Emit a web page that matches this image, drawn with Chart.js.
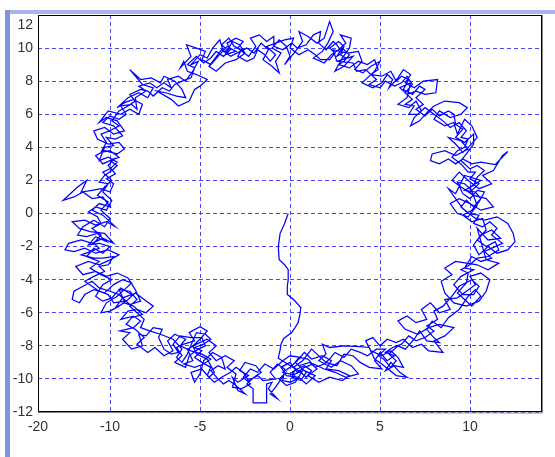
<!DOCTYPE html>
<html>
<head>
<meta charset="utf-8">
<script src="https://cdn.jsdelivr.net/npm/chart.js@4"></script>
<style>
  body { margin: 0; background: #fff; }
  #wrap { position: relative; width: 555px; height: 457px; }
  .band { position: absolute; }
  #topband { left: 5px; top: 10px; width: 550px; height: 4px; background: #a4b6ea; }
  #leftband { left: 5px; top: 10px; width: 5px; height: 447px; background: #7f93de; }
  canvas { position: absolute; left: 0; top: 0; }
</style>
</head>
<body>
<div id="wrap">
  <div class="band" id="topband"></div>
  <div class="band" id="leftband"></div>
  <canvas id="chart" width="555" height="457"></canvas>
</div>
<script>
const ctx = document.getElementById('chart');

// tick labels (the left edge tick is labelled -20 in the original)
const xTickValues = [-14, -10, -5, 0, 5, 10];
const xTickLabels = ['-20', '-10', '-5', '0', '5', '10'];
const yTickValues = [-12, -10, -8, -6, -4, -2, 0, 2, 4, 6, 8, 10, 12];

// walk path
const stem = [[-0.1,0],[-0.3,-0.6],[-0.55,-1.2],[-0.65,-2.0],[-0.6,-2.8],[-0.3,-3.1],[-0.1,-3.4],[-0.1,-4.0],[-0.15,-4.4],[-0.15,-4.9],[0.2,-5.2],[0.45,-5.5],[0.6,-5.7],[0.55,-6.1],[0.45,-6.6],[0.25,-6.95],[0.1,-7.2],[-0.35,-7.55],[-0.5,-7.9],[-0.55,-8.25],[-0.65,-8.75],[-0.2,-9.05]];
const bottom = [[0.3,-9.4],[0.1,-9.9],[0.6,-10.1],[0.9,-9.6],[0.5,-9.2],[1.1,-9.0],[1.5,-9.4],[1.0,-9.8],[1.6,-10.2],[2.2,-9.9],[2.9,-10.1],[3.3,-9.8],[2.7,-9.5],[2.0,-9.4],[2.3,-8.9],[1.8,-8.6],[1.2,-8.8],[0.8,-8.4],[0.4,-8.9],[0.0,-9.3],[-0.4,-9.6],[0.2,-9.75],[0.7,-9.5],[0.3,-10.2],[-0.2,-10.4],[-0.6,-10.0],[-0.3,-9.7],[-0.8,-10.5],[-1.1,-10.9],[-0.7,-11.2],[-1.2,-10.6],[-1.0,-10.2]];
const bottomLeft = [[-1.3,-10.3],[-1.3,-11.45],[-2.05,-11.45],[-2.05,-10.6],[-2.4,-10.3],[-2.0,-9.9],[-1.6,-9.6],[-1.9,-9.2],[-2.5,-9.0],[-2.8,-9.5],[-2.3,-9.8],[-2.9,-10.2],[-3.2,-9.9],[-2.9,-10.7],[-2.5,-10.9],[-3.0,-10.4],[-3.4,-10.1],[-3.7,-10.3],
  [-4.0,-10.0],[-4.4,-9.5],[-4.0,-9.2],[-3.6,-9.4],[-3.8,-8.7],[-4.3,-8.4],[-4.8,-8.9],[-5.0,-9.7],[-5.3,-10.2],[-5.5,-9.6],[-4.9,-9.4],[-4.5,-9.9],[-4.2,-9.6],[-4.6,-8.8],[-5.2,-8.5],[-5.4,-8.0],[-5.0,-7.6],[-4.6,-7.1],[-5.0,-6.85],[-5.6,-7.2],[-5.3,-7.7],[-5.9,-7.9],[-6.3,-8.1],[-6.0,-8.6],[-6.4,-9.0],[-5.8,-9.3],[-5.6,-8.6],[-5.1,-8.2],[-4.7,-8.0],[-4.9,-7.5],[-5.5,-7.5],[-6.1,-7.4],[-6.5,-7.9],[-6.2,-8.4],[-6.6,-8.5],
  [-7.0,-8.2],[-7.3,-7.5],[-7.1,-7.0],[-7.6,-6.9],[-8.0,-7.4],[-8.4,-7.3],[-8.2,-8.0],[-8.8,-8.2],[-9.3,-7.6],[-8.9,-7.2],[-9.45,-7.1],[-8.7,-6.9],[-8.3,-6.5],[-8.7,-6.2]];
const left = [[-9.4,-6.4],[-9.0,-5.9],[-8.5,-5.8],[-8.0,-6.0],[-7.6,-5.6],[-8.1,-5.2],[-8.6,-4.8],[-9.0,-5.2],[-9.5,-5.6],[-10.0,-5.9],[-10.5,-6.0],[-10.2,-5.4],[-9.6,-5.0],[-9.2,-4.6],[-8.8,-4.2],[-9.3,-4.0],[-9.8,-4.3],[-10.3,-4.8],[-10.9,-4.6],[-11.4,-4.9],[-11.7,-5.4],[-12.1,-5.2],[-12.0,-4.7],[-11.5,-4.4],[-11.0,-4.1],[-10.6,-4.5],[-10.0,-4.7],[-9.5,-4.9],[-8.9,-5.5],[-8.3,-5.3],[-8.6,-4.6],[-9.0,-3.9],
  [-9.6,-3.6],[-10.2,-3.8],[-10.8,-3.5],[-11.5,-3.7],[-11.9,-3.2],[-11.2,-2.9],[-10.6,-3.1],[-10.0,-2.8],[-9.5,-2.5],[-10.1,-2.2],[-10.8,-2.4],[-11.4,-2.1],[-12.0,-2.3],[-12.5,-2.2],[-12.3,-1.8],[-11.6,-1.6],[-11.0,-1.8],[-10.4,-1.5],[-9.8,-1.8],[-10.3,-1.2],[-11.1,-1.1],[-11.7,-0.9],[-12.1,-0.5],[-11.4,-0.4],[-10.8,-0.7],[-10.2,-0.5],[-9.7,-0.8],[-10.4,-0.1],[-11.0,0.2],[-10.6,0.6],[-10.0,0.4],[-10.4,1.0],[-11.0,0.9],
  [-11.5,1.3],[-12.0,1.0],[-12.6,0.8],[-12.1,1.3],[-11.8,1.6],[-11.3,2.0],[-11.6,1.3],[-11.0,1.4],[-10.5,1.5],[-10.0,1.3],[-9.8,1.8],
  [-10.2,2.1],[-9.7,2.4],[-10.1,2.9],[-9.8,3.3],[-10.4,3.0],[-10.8,3.5],[-10.3,3.8],[-9.6,3.6],[-9.2,3.9],[-9.5,4.3],[-10.1,4.2],[-10.7,4.5],[-10.9,5.0],[-10.3,5.2],[-9.8,4.8],[-9.2,5.0]];
const topLeft = [[-9.6,5.6],[-10.2,5.8],[-10.6,5.5],[-10.1,6.2],[-9.4,6.0],[-8.9,6.3],[-8.4,6.0],[-8.2,6.6],[-8.7,6.9],[-9.2,6.7],[-9.6,6.4],
  [-9.0,7.0],[-8.4,7.3],[-7.9,7.0],[-7.6,7.6],[-8.2,7.8],[-8.9,8.7],[-8.3,8.1],[-7.7,8.2],[-7.2,7.9],[-7.0,8.3],[-6.4,8.0],[-6.0,7.5],[-5.8,7.0],[-6.3,7.1],[-6.9,7.3],[-7.4,7.4],[-6.6,6.9],[-6.2,6.5],[-5.6,6.8],[-5.3,7.5],
  [-5.0,7.7],[-4.6,8.1],[-5.2,8.4],[-5.7,8.6],[-5.9,9.2],[-6.1,8.8],[-5.5,9.5],[-5.75,10.2],[-5.2,10.0],[-4.7,9.8],[-4.9,9.3],[-4.4,9.0],[-4.0,9.5],[-3.5,10.1],[-3.0,9.8],[-3.6,9.6],[-3.2,10.4],[-2.8,10.2],[-2.5,9.7],[-3.0,9.3],[-3.6,9.1],[-4.1,8.6],[-4.5,8.9],[-3.8,9.9],[-3.3,9.5],[-2.4,10.0],[-2.0,9.7],
  [-1.6,10.3],[-1.2,9.9],[-1.5,9.3],[-1.0,8.9],[-0.6,8.5],[-0.8,9.2],[-0.5,9.7],[-1.0,10.0],[-0.6,10.5],[-0.2,10.1],[0.0,9.5],[-0.3,9.0]];
const topRight = [[0.3,9.8],[0.7,10.4],[0.5,11.0],[1.0,10.7],[1.5,10.3],[1.9,10.6],[2.2,11.6],[2.4,11.0],[2.1,10.3],[1.8,9.8],[1.3,9.4],[1.9,9.1],[2.3,9.6],[2.7,9.9],[3.1,10.3],[2.8,10.8],[3.4,10.6],[3.3,10.0],[2.9,9.4],[2.5,8.6],[3.0,8.9],[3.5,9.5],[2.6,9.2],[2.4,9.9],[3.2,9.7],[3.8,9.8],[4.0,9.2],[3.6,8.7],[4.05,8.5],
  [4.5,8.9],[5.0,9.2],[4.7,8.6],[4.3,8.2],[4.0,7.9],[4.6,7.6],[5.1,7.9],[5.4,8.4],[5.7,8.1],[5.5,7.6],
  [6.0,8.2],[6.3,8.7],[6.7,8.4],[6.4,7.9],[6.9,7.6],[7.4,8.0],[8.2,8.1],[8.1,7.3],[7.5,7.2],[7.0,7.4],[6.5,7.2],[6.1,7.6],[6.7,7.9],
  [6.5,7.0],[6.0,6.6],[6.6,6.4],[7.0,6.8],[7.3,6.2],[6.9,5.8],[6.7,5.3],[7.2,5.6],[7.6,6.1],
  [8.0,6.5],[8.6,6.8],[9.4,6.7],[9.85,6.4],[9.5,6.0],[8.9,5.8],[8.3,6.2],[8.0,5.7],
  [8.6,5.3],[9.1,5.5],[9.3,4.8],[9.7,5.7],[10.1,5.3],[10.4,4.6],[10.0,4.1],[9.6,3.7],[9.2,4.2],[8.8,4.6],[9.5,4.4],[9.9,3.9],
  [9.2,3.5],[8.6,3.8],[7.9,3.6],[7.8,3.2],[8.3,3.0],[8.8,3.3],[9.2,3.0]];
const right = [[9.6,3.3],[10.1,3.0],[10.6,3.1],[11.4,2.95],[12.1,3.75],[11.8,3.5],[11.3,2.6],[10.7,2.3],[11.2,1.8],[10.5,1.5],[9.9,2.0],[9.4,2.5],[9.0,2.0],[9.5,1.6],[10.2,1.1],[10.9,0.9],[11.3,0.4],[10.6,0.2],[10.0,0.6],[9.4,0.9],[8.9,0.6],[9.3,0.0],[9.9,-0.2],[10.4,0.5],[10.0,1.6],[10.6,2.0],[9.7,2.3],[9.2,1.2],[8.8,1.5],[9.6,0.3],[10.3,-0.3],
  [10.8,-0.4],[11.5,-0.2],[12.1,-0.6],[12.4,-1.2],[12.5,-1.7],[12.1,-2.2],[11.5,-2.4],[11.0,-2.0],[10.5,-2.5],[10.2,-1.9],[10.6,-1.3],[11.2,-1.0],[11.7,-1.5],[11.0,-1.6],[10.4,-0.9]];
const bottomRight = [[10.9,-2.8],[11.6,-3.0],[11.0,-3.4],[10.4,-3.1],[9.8,-3.0],[9.2,-2.9],[8.6,-3.3],[9.0,-3.7],[8.4,-4.1],[8.6,-4.8],[9.1,-5.4],[9.8,-5.6],[10.5,-5.3],[10.9,-4.7],[11.1,-4.0],[10.6,-3.6],[10.0,-3.8],[10.3,-4.3],
  [9.3,-5.1],[8.6,-5.2],[8.9,-5.8],[8.3,-6.0],[7.8,-5.4],[7.3,-5.8],[7.6,-6.4],[7.0,-6.6],[6.5,-6.2],[6.0,-6.5],[6.4,-7.0],[7.1,-7.3],[7.7,-6.9],[8.3,-6.7],[9.1,-6.9],[8.6,-7.4],[8.0,-7.7],[8.5,-8.4],[7.7,-8.3],[7.3,-7.9],[6.8,-8.1],[6.3,-7.6],[5.9,-7.8],
  [5.4,-7.6],[5.0,-8.0],[4.6,-7.5],[4.2,-7.7],[4.5,-8.3],[5.1,-8.6],[5.6,-8.3],[6.0,-8.7],[6.3,-9.3],[5.8,-9.2],[5.3,-9.5],[5.6,-9.0],[6.1,-9.6],[6.5,-9.9],[5.9,-9.8],[5.1,-9.1],[4.7,-8.8],[4.4,-8.1],
  [3.9,-8.05],[3.0,-8.0],[2.2,-8.1],[1.8,-7.9],[2.0,-8.5],[1.6,-8.9],[2.3,-9.3],[2.8,-8.9],[3.4,-9.2],[3.8,-9.7],[3.1,-9.9],[2.5,-9.6],[1.9,-9.4],[1.3,-9.1],[0.8,-9.3],[0.4,-9.6]];
// second lap round the ring
const lapTwoLow = [[0.0,-9.0],[-0.5,-9.3],[-0.2,-9.8],[0.5,-9.9],[0.9,-10.3],[1.4,-9.8],[0.8,-9.5],[0.3,-9.0],[0.6,-8.7],[0.0,-8.6],[-0.4,-8.9],[-0.9,-9.4],[-1.4,-9.1],[-1.8,-9.6],[-2.2,-9.4],[-2.6,-9.9],[-2.2,-10.3],[-2.7,-10.6],[-3.2,-10.5],[-3.0,-9.7],[-3.5,-9.3],[-3.1,-8.9],[-3.6,-8.6],[-4.1,-8.9],[-4.5,-8.4],[-4.1,-8.0],[-4.6,-7.6],[-5.2,-7.9],[-5.7,-8.2],[-5.4,-8.9],[-5.9,-9.1],[-5.3,-9.3],[-4.8,-9.1],[-4.4,-8.8],[-4.9,-8.5],[-5.5,-8.3],[-6.1,-8.0],[-5.8,-7.6],[-6.4,-7.3],[-6.8,-7.7],[-6.5,-8.3],[-7.0,-8.6],[-7.5,-8.1],[-7.9,-8.4],[-8.5,-7.9],[-8.1,-7.5],[-8.6,-7.0],[-9.1,-6.7],[-8.8,-6.3],[-8.2,-6.1]];
const lapTwoLeft = [[-8.7,-5.6],[-9.2,-5.4],[-9.7,-5.7],[-9.3,-5.1],[-8.8,-4.9],[-9.4,-4.5],[-9.9,-5.1],[-10.4,-5.3],[-10.8,-5.0],[-10.4,-4.3],[-9.9,-4.0],[-10.5,-3.7],[-11.1,-3.3],[-10.6,-2.9],[-11.3,-2.6],[-10.9,-2.1],[-10.4,-2.4],[-10.0,-2.0],[-10.6,-1.8],[-11.2,-1.9],[-10.8,-1.4],[-10.2,-1.7],[-10.7,-1.2],[-11.3,-1.4],[-11.8,-1.3],[-11.5,-0.8],[-10.9,-0.4],[-10.3,-0.8],[-10.0,-0.3],[-10.5,0.2],[-10.1,0.7],[-10.7,1.1],[-10.3,1.6],[-9.9,2.0],[-10.4,2.5],[-10.0,2.7],[-9.6,3.1],[-10.1,3.4],[-10.6,3.2],[-10.3,4.0],[-9.8,4.1],[-10.2,4.6],[-9.7,4.5],[-9.3,4.7],[-9.8,5.3],[-10.4,5.5],[-10.0,5.9],[-9.5,5.7],[-9.1,6.0],[-9.4,6.5],[-8.8,6.6],[-8.5,6.3]];
const lapTwoHigh = [[-8.6,7.0],[-8.0,7.4],[-8.4,7.7],[-7.8,7.9],[-7.4,7.6],[-7.0,7.9],[-6.6,7.6],[-6.8,8.1],[-6.2,8.3],[-5.8,8.0],[-5.4,8.6],[-5.1,9.2],[-5.5,9.0],[-5.0,9.6],[-4.6,9.4],[-4.3,10.0],[-3.9,10.5],[-3.7,9.8],[-3.3,9.9],[-3.5,10.3],[-3.0,10.6],[-2.6,10.4],[-2.9,10.0],[-2.3,9.5],[-1.9,10.1],[-2.2,10.6],[-1.7,10.8],[-1.3,10.4],[-0.9,10.7],[-0.9,10.1],[-0.4,9.9],[0.1,10.3],[0.4,10.0],[0.9,10.2],[1.3,10.8],[1.7,11.0],[1.6,10.3],[2.0,9.9],[2.4,10.4],[2.6,10.2],[2.9,9.7],[2.6,9.5],[2.9,10.0],[3.3,9.6],[3.0,9.2],[2.7,9.0],[3.3,8.8],[3.8,9.2],[4.3,9.0],[4.7,9.3],[4.9,8.7],[4.5,8.4],[5.1,8.3],[5.6,8.6],[5.9,8.0],[6.2,8.3],[6.6,8.1],[6.3,7.5],[6.8,7.2],[7.2,7.7],[7.5,7.5],[7.0,7.0],[7.4,6.6],[7.0,6.3],[7.5,5.9],[7.9,6.3],[8.3,5.9],[8.8,6.2],[9.1,6.0],[9.2,5.4],[9.6,5.1],[9.2,4.6],[9.7,4.3],[10.2,4.8],[10.2,4.2],[9.8,3.6],[9.5,3.2]];
const lapTwoRight = [[10.0,2.7],[10.4,2.9],[10.8,2.6],[10.4,2.2],[10.2,1.7],[9.7,1.4],[10.3,1.3],[10.6,0.9],[10.2,0.4],[9.8,0.8],[9.5,0.4],[9.9,0.0],[10.5,-0.1],[10.2,-0.6],[10.7,-0.8],[11.1,-0.5],[11.5,-0.9],[11.2,-1.3],[11.8,-1.8],[11.4,-2.0],[10.8,-2.3],[11.2,-2.7],[10.6,-2.9],[10.1,-2.6],[9.7,-3.3],[10.2,-3.4],[9.5,-3.8],[9.1,-4.3],[9.6,-4.9],[10.2,-4.9],[10.5,-4.4],[10.1,-4.0],[9.4,-4.4],[9.0,-5.0],[8.5,-5.6],[8.0,-5.9],[8.2,-6.4],[7.6,-6.8],[8.0,-7.1],[7.5,-7.5],[7.0,-7.7],[6.6,-7.4],[6.2,-7.9],[5.7,-8.1],[5.3,-8.4],[5.8,-8.6],[5.4,-8.9],[5.0,-8.4],[4.7,-8.9],[5.1,-9.4],[4.4,-9.3],[3.9,-9.0],[3.5,-8.6],[3.0,-8.5],[2.6,-9.2],[2.0,-9.0],[1.5,-8.5],[1.2,-8.2],[0.7,-8.9],[0.2,-9.3]];
// third lap, tighter tangles in the dense patches
const lapThreeLow = [[0.6,-9.6],[0.9,-9.9],[1.2,-9.5],[0.8,-9.2],[0.4,-9.4],[0.1,-9.6],[0.4,-10.0],[0.0,-10.2],[-0.4,-10.1],[-0.3,-9.4],[-0.7,-9.1],[-1.1,-9.6],[-0.8,-10.0],[-1.5,-10.1],[-1.8,-9.8],[-2.3,-10.1],[-2.6,-9.6],[-3.0,-9.3],[-3.3,-9.6],[-3.8,-9.9],[-4.2,-10.2],[-4.6,-9.8],[-4.4,-9.3],[-4.9,-9.0],[-5.3,-8.7],[-4.9,-8.3],[-5.3,-8.1],[-4.8,-7.9],[-4.4,-7.6],[-4.7,-7.3],[-5.2,-7.2],[-5.4,-7.7],[-5.7,-8.5],[-6.0,-9.0],[-6.3,-8.7],[-6.0,-8.2],[-6.5,-7.6],[-7.2,-7.3],[-7.8,-7.1],[-8.3,-6.9],[-8.1,-6.4],[-8.5,-6.0],[-8.9,-5.6],[-8.5,-5.2],[-8.9,-4.7],[-9.5,-4.6],[-9.2,-5.3],[-9.8,-5.4],[-10.1,-4.9],[-10.6,-4.7],[-11.0,-4.4],[-11.4,-4.1],[-10.9,-3.8],[-10.3,-3.5],[-10.6,-3.2],[-10.1,-3.1],[-9.8,-2.6],[-10.4,-2.7],[-10.9,-2.7],[-11.6,-2.5],[-11.1,-2.3],[-10.6,-2.1],[-10.9,-1.8],[-10.5,-1.3],[-11.0,-0.9],[-10.5,-0.6],[-10.7,-0.2],[-11.2,0.1],[-10.8,0.4],[-10.2,0.2],[-9.9,0.8],[-10.4,1.3],[-10.1,1.8],[-10.6,1.9],[-10.3,2.3],[-9.9,2.6],[-9.6,2.9],[-10.0,3.2],[-9.5,3.4],[-10.0,3.8],[-10.5,3.7],[-10.2,4.3],[-10.5,4.8],[-10.0,5.0],[-9.5,5.3],[-9.9,5.6],[-9.5,6.2],[-9.0,6.5],[-8.6,6.8],[-8.9,7.2],[-8.3,7.5]];
const lapThreeHigh = [[-7.9,7.4],[-7.6,7.1],[-7.1,7.6],[-6.7,7.4],[-6.4,7.8],[-6.0,8.0],[-5.5,8.2],[-5.3,8.8],[-5.7,9.0],[-5.2,9.5],[-4.8,9.1],[-4.4,9.4],[-4.1,9.8],[-3.7,9.5],[-3.4,9.8],[-3.8,10.2],[-3.4,10.6],[-3.1,10.1],[-2.7,9.9],[-2.9,9.5],[-2.4,9.2],[-2.0,9.4],[-1.8,9.9],[-1.4,9.6],[-1.1,9.2],[-0.8,9.6],[-1.3,10.1],[-0.8,10.3],[-0.3,10.5],[0.2,10.6],[0.0,10.0],[0.5,9.6],[1.0,9.9],[1.4,9.6],[1.7,9.3],[2.2,9.3],[2.5,9.7],[2.2,10.0],[2.7,10.4],[3.0,10.1],[2.8,9.6],[3.1,9.4],[2.7,9.2],[3.5,9.1],[3.7,8.6],[4.2,8.7],[4.8,8.1],[4.4,7.8],[5.0,7.6],[5.3,8.0],[5.8,7.7],[6.2,7.9],[6.5,8.3],[6.8,7.8],[6.4,7.3],[6.8,6.9],[6.4,6.6],[6.9,6.5],[6.6,6.0],[7.1,6.0],[7.5,6.4],[8.0,6.0],[8.5,5.6],[8.9,5.2],[9.4,5.5],[9.8,5.0],[9.5,4.6],[9.9,4.5],[9.7,4.0],[9.3,3.8],[9.0,3.4],[9.5,3.0]];
const lapThreeRight = [[9.9,2.5],[10.3,2.5],[10.0,2.1],[10.5,1.8],[10.1,1.4],[9.7,1.8],[9.3,1.9],[9.6,1.2],[10.0,0.9],[10.4,1.4],[10.8,1.3],[10.5,0.7],[10.1,0.2],[9.6,-0.1],[10.1,-0.5],[10.7,-0.3],[10.9,-1.0],[10.4,-1.6],[10.9,-2.0],[11.4,-1.7],[11.6,-2.2],[11.0,-2.6],[10.4,-2.7],[10.0,-3.1],[9.5,-3.4],[9.9,-3.6],[9.8,-4.2],[9.3,-4.8],[9.7,-5.2],[10.1,-5.6],[10.6,-5.0],[10.3,-4.6],[9.9,-5.0],[9.4,-5.8],[8.8,-6.3],[8.4,-6.9],[7.9,-6.5],[7.6,-7.0],[7.9,-7.4],[8.3,-7.8],[7.6,-7.7],[7.2,-7.1],[6.9,-7.6],[6.4,-8.2],[6.0,-8.0],[5.5,-8.5],[5.9,-8.9],[5.6,-9.3],[5.2,-8.8],[4.9,-8.6],[5.3,-8.2],[4.8,-8.2],[4.3,-8.6],[3.9,-8.4],[3.4,-8.2],[3.0,-8.7],[2.5,-8.4],[2.2,-8.8],[1.9,-9.1],[1.4,-9.3],[1.0,-8.8],[0.5,-8.7],[0.2,-9.1]];

const walk = [].concat(stem, bottom, bottomLeft, left, topLeft, topRight, right, bottomRight,
  lapTwoLow, lapTwoLeft, lapTwoHigh, lapTwoRight, lapThreeLow, lapThreeHigh, lapThreeRight)
  .map(p => ({ x: p[0], y: p[1] }));

// box round the plot area, and the top y label that sits inside it
const frame = {
  id: 'frame',
  afterDraw(c) {
    const a = c.chartArea, g = c.ctx;
    g.save();
    g.strokeStyle = '#000';
    g.lineWidth = 1;
    g.strokeRect(a.left + 0.5, a.top + 0.5, a.right - a.left - 1, a.bottom - a.top - 1);
    g.strokeStyle = '#888';
    g.beginPath();
    g.moveTo(a.right + 0.5, a.top);
    g.lineTo(a.right + 0.5, a.bottom + 1);
    g.lineTo(a.left, a.bottom + 0.5);
    g.stroke();
    g.fillStyle = '#333';
    g.font = '14px "Liberation Sans"';
    g.textAlign = 'right';
    g.textBaseline = 'middle';
    g.fillText(String(yTickValues[yTickValues.length - 1]), a.left - 5, a.top + 10);
    g.restore();
  }
};

const gridStyle = { color: '#4646f5', lineWidth: 1, drawTicks: false };

new Chart(ctx, {
  type: 'scatter',
  data: {
    datasets: [{
      data: walk,
      showLine: true,
      borderColor: '#0000ff',
      borderWidth: 1.25,
      pointRadius: 0,
      tension: 0
    }]
  },
  options: {
    responsive: false,
    animation: false,
    layout: { padding: { left: 0, top: 15, right: 13, bottom: 0 } },
    plugins: { legend: { display: false }, tooltip: { enabled: false } },
    scales: {
      x: {
        min: -14, max: 14,
        afterBuildTicks: s => { s.ticks = xTickValues.map(v => ({ value: v })); },
        afterFit: s => { s.height = 45; },
        grid: gridStyle,
        border: { display: false, dash: [4, 3] },
        ticks: {
          padding: 7,
          color: '#333',
          font: { family: 'Liberation Sans', size: 14 },
          callback: (v, i) => xTickLabels[i]
        }
      },
      y: {
        min: -12, max: 12,
        afterBuildTicks: s => { s.ticks = yTickValues.map(v => ({ value: v })); },
        afterFit: s => { s.width = 38; },
        grid: gridStyle,
        border: { display: false, dash: [4, 3] },
        ticks: {
          padding: 5,
          color: '#333',
          font: { family: 'Liberation Sans', size: 14 },
          callback: v => (v === 12 ? '' : String(v))
        }
      }
    }
  },
  plugins: [frame]
});
</script>
</body>
</html>
